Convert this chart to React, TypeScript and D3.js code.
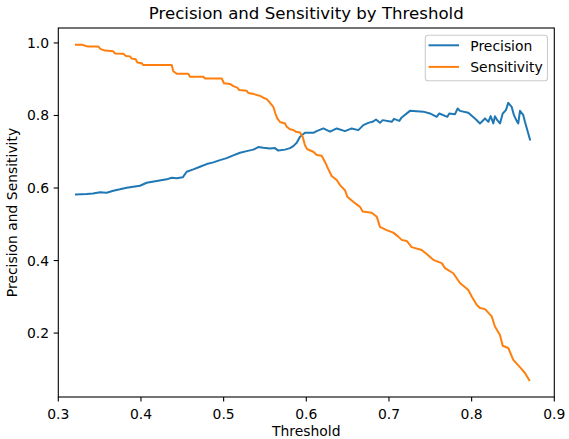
import React from "react";
import * as d3 from "d3";

// Precision series (threshold, value)
const precisionThreshold = [
  0.3214, 0.3344, 0.342, 0.3504, 0.3585, 0.3665, 0.3746, 0.3827, 0.3907, 0.3988,
  0.4069, 0.419, 0.4311, 0.4372, 0.4432, 0.4505, 0.4553, 0.4633, 0.4714, 0.4795,
  0.4875, 0.4956, 0.5037, 0.5117, 0.5198, 0.5279, 0.5359, 0.5419, 0.548, 0.5561,
  0.5621, 0.5661, 0.5742, 0.5803, 0.5843, 0.5884, 0.5924, 0.5984, 0.6085, 0.6126,
  0.6206, 0.6287, 0.6368, 0.6468, 0.6549, 0.6629, 0.669, 0.675, 0.681, 0.6843,
  0.6891, 0.6924, 0.7033, 0.7061, 0.7125, 0.7154, 0.7254, 0.7415, 0.7496, 0.7577,
  0.7609, 0.7706, 0.773, 0.7799, 0.7831, 0.7859, 0.796, 0.8053, 0.8101, 0.8162,
  0.8202, 0.823, 0.8262, 0.8282, 0.831, 0.8343, 0.8376, 0.8415, 0.8443, 0.8484,
  0.8512, 0.8545, 0.8564, 0.8585, 0.8625, 0.8645, 0.8685, 0.8706,
];
const precisionValues = [
  0.5821, 0.5834, 0.5848, 0.5881, 0.587, 0.5925, 0.5964, 0.6008, 0.6035, 0.6063,
  0.6145, 0.6192, 0.6239, 0.6283, 0.6267, 0.6294, 0.6448, 0.6514, 0.6586, 0.666,
  0.6707, 0.677, 0.6825, 0.69, 0.6971, 0.7018, 0.7059, 0.7128, 0.7109, 0.7093,
  0.7101, 0.7032, 0.7059, 0.7101, 0.7156, 0.7247, 0.7412, 0.7522, 0.7522, 0.7569,
  0.7643, 0.7555, 0.7643, 0.7569, 0.7643, 0.7596, 0.7734, 0.7797, 0.7836, 0.7891,
  0.7797, 0.7872, 0.7825, 0.7907, 0.7852, 0.7946, 0.8128, 0.8106, 0.8056, 0.7963,
  0.8056, 0.7963, 0.8056, 0.8037, 0.8194, 0.8128, 0.8073, 0.7891, 0.7781, 0.7919,
  0.7825, 0.7982, 0.7781, 0.7982, 0.7872, 0.7781, 0.8056, 0.8147, 0.8348, 0.8238,
  0.8009, 0.7852, 0.7781, 0.8128, 0.8009, 0.7825, 0.7505, 0.7335,
];

// Sensitivity series (threshold, value)
const sensitivityThreshold = [
  0.3214, 0.3287, 0.3359, 0.3484, 0.3513, 0.3565, 0.3665, 0.3686, 0.3786, 0.3819,
  0.3867, 0.3888, 0.3936, 0.3956, 0.4009, 0.4028, 0.4372, 0.4391, 0.4432, 0.4573,
  0.4593, 0.4754, 0.4775, 0.4977, 0.5004, 0.5077, 0.5117, 0.5165, 0.5189, 0.5279,
  0.5298, 0.5367, 0.544, 0.548, 0.5521, 0.5561, 0.5601, 0.5625, 0.5649, 0.5682,
  0.5742, 0.5763, 0.5803, 0.5843, 0.5875, 0.5924, 0.5956, 0.5984, 0.6012, 0.6085,
  0.6126, 0.6186, 0.6226, 0.6266, 0.6307, 0.6368, 0.6408, 0.6468, 0.6496, 0.6568,
  0.665, 0.6682, 0.6791, 0.6852, 0.6891, 0.6972, 0.7052, 0.7113, 0.7154, 0.7214,
  0.7275, 0.7396, 0.7456, 0.7536, 0.7638, 0.7678, 0.7778, 0.7859, 0.796, 0.8001,
  0.8061, 0.8101, 0.8162, 0.8243, 0.8282, 0.8343, 0.8376, 0.8443, 0.8504, 0.8576,
  0.8645, 0.8697,
];
const sensitivityValues = [
  0.995, 0.995, 0.99, 0.99, 0.983, 0.979, 0.977, 0.971, 0.97, 0.964,
  0.963, 0.957, 0.955, 0.946, 0.944, 0.939, 0.939, 0.922, 0.915, 0.915,
  0.907, 0.907, 0.902, 0.902, 0.889, 0.887, 0.881, 0.877, 0.87, 0.868,
  0.862, 0.859, 0.854, 0.849, 0.845, 0.835, 0.824, 0.806, 0.792, 0.782,
  0.778, 0.769, 0.762, 0.76, 0.755, 0.753, 0.741, 0.718, 0.707, 0.7,
  0.691, 0.689, 0.672, 0.652, 0.633, 0.622, 0.608, 0.594, 0.576, 0.562,
  0.548, 0.535, 0.532, 0.521, 0.493, 0.484, 0.477, 0.466, 0.457, 0.454,
  0.437, 0.429, 0.418, 0.402, 0.393, 0.379, 0.365, 0.338, 0.319, 0.301,
  0.278, 0.269, 0.266, 0.246, 0.218, 0.195, 0.165, 0.159, 0.126, 0.108,
  0.09, 0.07,
];

const xTicks = [0.3, 0.4, 0.5, 0.6, 0.7, 0.8, 0.9];
const yTicks = [0.2, 0.4, 0.6, 0.8, 1.0];
const seriesNames = ["Precision", "Sensitivity"];
const seriesColors = ["#1f77b4", "#ff7f0e"];

const W = 569;
const H = 439;
const L = 58.3, R = 554.3, T = 28, B = 397;
const FONT = "'DejaVu Sans', sans-serif";
const txt: React.CSSProperties = { fontFamily: FONT };
const FS = 13.9;
const TITLE_FS = 16.6;
const LW = 2.0;
const TICK = 4.6;

export default function App() {
  const allY = [...precisionValues, ...sensitivityValues];
  const yMin = d3.min(allY) as number;
  const yMax = d3.max(allY) as number;
  const pad = (yMax - yMin) * 0.05;
  const x = d3.scaleLinear().domain([0.3, 0.9]).range([L, R]);
  const y = d3.scaleLinear().domain([yMin - pad, yMax + pad]).range([B, T]);

  const line = d3
    .line<[number, number]>()
    .x((d) => x(d[0]))
    .y((d) => y(d[1]));

  const series = [
    precisionThreshold.map((t, i) => [t, precisionValues[i]] as [number, number]),
    sensitivityThreshold.map((t, i) => [t, sensitivityValues[i]] as [number, number]),
  ];

  const fmt = d3.format(".1f");
  const legendLineY = [45.3, 66.9];

  return (
    <svg
      width={W}
      height={H}
      style={{ position: "absolute", left: 0, top: 0, background: "#fff", fontFamily: FONT }}
    >
      <rect x={0} y={0} width={W} height={H} fill="#fff" />
      <defs>
        <clipPath id="plotclip">
          <rect x={L} y={T} width={R - L} height={B - T} />
        </clipPath>
      </defs>
      <g clipPath="url(#plotclip)">
        {series.map((s, i) => (
          <path
            key={i}
            d={line(s) || ""}
            fill="none"
            stroke={seriesColors[i]}
            strokeWidth={LW}
            strokeLinejoin="round"
            strokeLinecap="square"
          />
        ))}
      </g>
      <rect x={L} y={T} width={R - L} height={B - T} fill="none" stroke="#000" strokeWidth={1.1} />
      {xTicks.map((t) => (
        <g key={t}>
          <line x1={x(t)} x2={x(t)} y1={B} y2={B + TICK} stroke="#000" strokeWidth={1.1} />
          <text style={txt} x={x(t)} y={418.5} fontSize={FS} textAnchor="middle" fill="#000">
            {fmt(t)}
          </text>
        </g>
      ))}
      {yTicks.map((t) => (
        <g key={t}>
          <line x1={L - TICK} x2={L} y1={y(t)} y2={y(t)} stroke="#000" strokeWidth={1.1} />
          <text style={txt} x={49} y={y(t)} dy="0.36em" fontSize={FS} textAnchor="end" fill="#000">
            {fmt(t)}
          </text>
        </g>
      ))}
      <text style={txt} x={(L + R) / 2} y={436} fontSize={FS} textAnchor="middle" fill="#000">
        Threshold
      </text>
      <text
        style={txt}
        transform={`translate(17,${(T + B) / 2}) rotate(-90)`}
        fontSize={FS}
        textAnchor="middle"
        fill="#000"
      >
        Precision and Sensitivity
      </text>
      <text style={txt} x={(L + R) / 2} y={19.4} fontSize={TITLE_FS} textAnchor="middle" fill="#000">
        Precision and Sensitivity by Threshold
      </text>
      <g>
        <rect
          x={425.3}
          y={35.3}
          width={122.2}
          height={45.4}
          rx={2.8}
          fill="#fff"
          fillOpacity={0.8}
          stroke="#cccccc"
          strokeWidth={1.1}
        />
        {seriesNames.map((n, i) => (
          <g key={n}>
            <line
              x1={428.6}
              x2={459}
              y1={legendLineY[i]}
              y2={legendLineY[i]}
              stroke={seriesColors[i]}
              strokeWidth={LW}
            />
            <text style={txt} x={470.3} y={legendLineY[i] + 5.2} fontSize={FS} fill="#000">
              {n}
            </text>
          </g>
        ))}
      </g>
    </svg>
  );
}
